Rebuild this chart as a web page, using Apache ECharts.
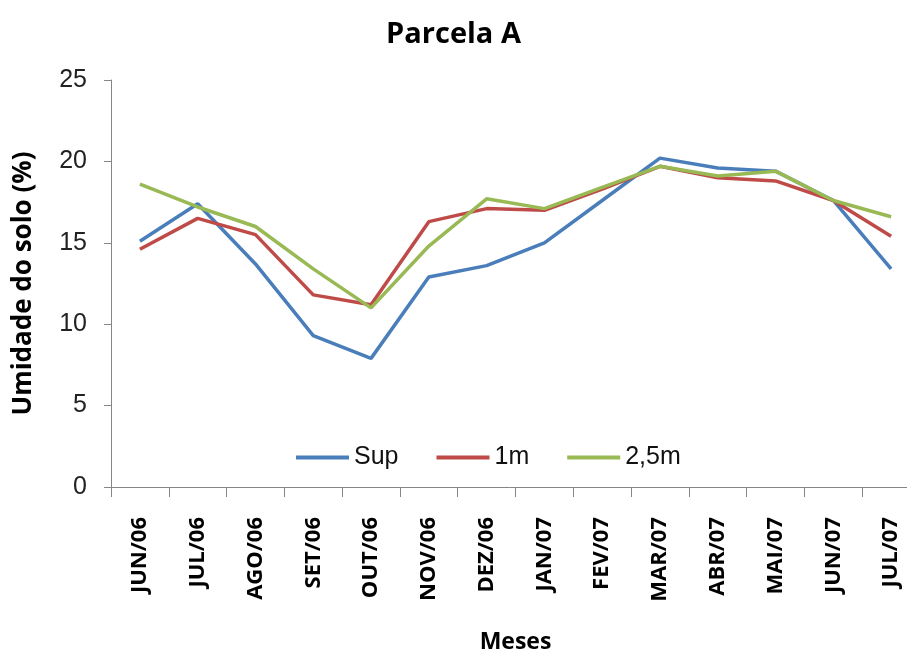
<!DOCTYPE html>
<html>
<head>
<meta charset="utf-8">
<script src="https://cdn.jsdelivr.net/npm/echarts@6/dist/echarts.min.js"></script>
<style>
  html, body { margin: 0; padding: 0; background: #fff; }
  #chart { width: 907px; height: 651px; }
</style>
</head>
<body>
<div id="chart"></div>
<script>
// Soil moisture (%) per month at three depths
const months = ['JUN/06', 'JUL/06', 'AGO/06', 'SET/06', 'OUT/06', 'NOV/06', 'DEZ/06',
                'JAN/07', 'FEV/07', 'MAR/07', 'ABR/07', 'MAI/07', 'JUN/07', 'JUL/07'];
const sup   = [15.1, 17.4, 13.7, 9.3, 7.9, 12.9, 13.6, 15.0, 17.6, 20.2, 19.6, 19.4, 17.6, 13.4];
const m1    = [14.6, 16.5, 15.5, 11.8, 11.2, 16.3, 17.1, 17.0, 18.3, 19.7, 19.0, 18.8, 17.6, 15.4];
const m25   = [18.6, 17.2, 16.0, 13.4, 11.0, 14.8, 17.7, 17.1, 18.4, 19.7, 19.1, 19.4, 17.6, 16.6];
const yTicks = [0, 5, 10, 15, 20, 25];

const seriesNames = ['Sup', '1m', '2,5m'];
const colors = ['#4A7EBB', '#BE4B48', '#98B954'];

const chart = echarts.init(document.getElementById('chart'));
chart.setOption({
  animation: false,
  title: {
    text: 'Parcela A',
    left: 'center',
    top: 15,
    textStyle: { fontFamily: 'Open Sans', fontWeight: 'bold', fontSize: 29, color: '#000' }
  },
  legend: {
    data: seriesNames,
    left: 291,
    top: 440,
    icon: 'rect',
    itemWidth: 53,
    itemHeight: 4,
    itemGap: 38,
    textStyle: { fontFamily: 'Liberation Sans', fontSize: 25, color: '#111' }
  },
  grid: {
    left: 111, right: -13, top: 80, bottom: 164,
    containLabel: false,
    outerBoundsMode: 'none'
  },
  xAxis: {
    type: 'category',
    data: months,
    boundaryGap: true,
    name: 'Meses',
    nameLocation: 'middle',
    nameGap: 144,
    nameTextStyle: { fontFamily: 'Open Sans', fontWeight: 'bold', fontSize: 23, color: '#000' },
    axisLine: { lineStyle: { color: '#868686', width: 1 } },
    axisTick: { show: true, length: 10, lineStyle: { color: '#868686' } },
    axisLabel: {
      rotate: 90,
      margin: 30,
      fontFamily: 'Open Sans',
      fontWeight: 'bold',
      fontSize: 22,
      color: '#000'
    }
  },
  yAxis: {
    type: 'value',
    min: yTicks[0],
    max: yTicks[yTicks.length - 1],
    interval: 5,
    name: 'Umidade do solo (%)',
    nameLocation: 'middle',
    nameGap: 74,
    nameRotate: 90,
    nameTextStyle: { fontFamily: 'Open Sans', fontWeight: 'bold', fontSize: 26, color: '#000' },
    axisLine: { show: true, lineStyle: { color: '#868686', width: 1 } },
    axisTick: { show: true, length: 7, lineStyle: { color: '#868686' } },
    splitLine: { show: false },
    axisLabel: { fontFamily: 'Liberation Sans', fontSize: 25, color: '#222', margin: 24 }
  },
  series: [sup, m1, m25].map((vals, i) => ({
    name: seriesNames[i],
    type: 'line',
    data: vals,
    symbol: 'none',
    lineStyle: { color: colors[i], width: 3.5 },
    itemStyle: { color: colors[i] }
  }))
});
</script>
</body>
</html>
